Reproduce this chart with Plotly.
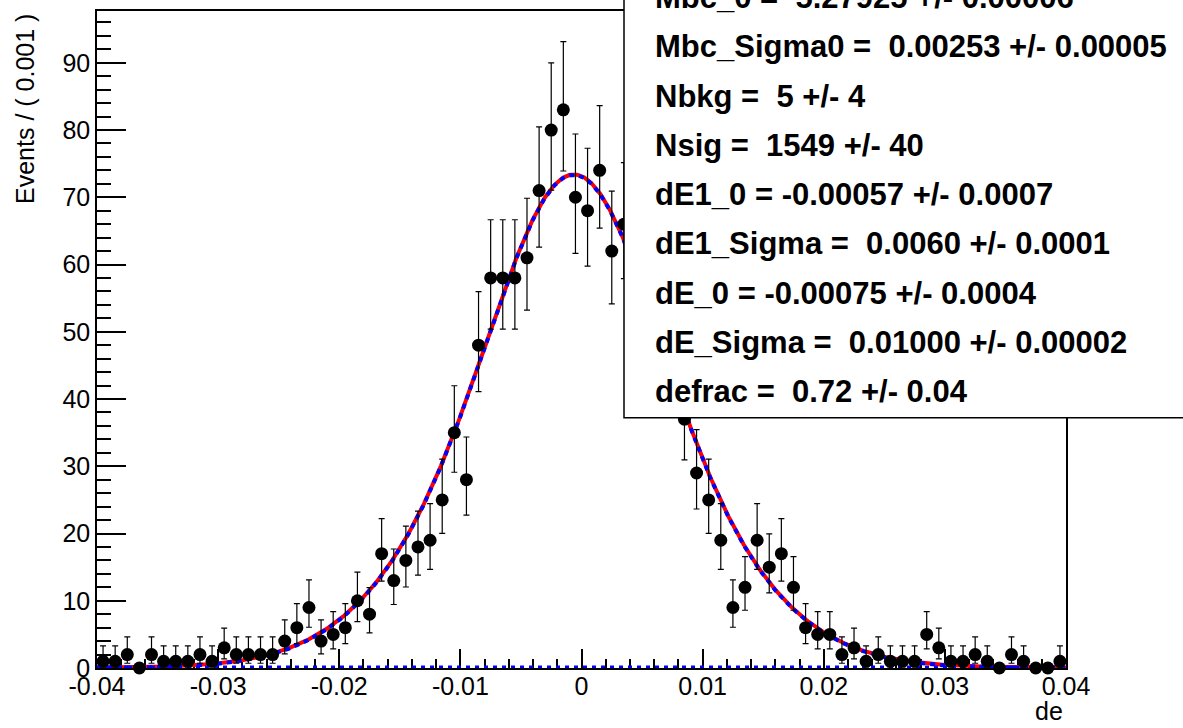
import math
import numpy as np
import plotly.graph_objects as go

# ---------------- data ----------------
bin_width = 0.001
x_min, x_max = -0.04, 0.04
bin_centers = [round(x_min + bin_width * (i + 0.5), 4) for i in range(80)]
counts = [1, 1, 2, 0, 2, 1, 1, 1, 2, 1,
          3, 2, 2, 2, 2, 4, 6, 9, 4, 5,
          6, 10, 8, 17, 13, 16, 18, 19, 25, 35,
          28, 48, 58, 58, 58, 61, 71, 80, 83, 70,
          68, 74, 62, 66, 60, 55, 52, 46, 37, 29,
          25, 19, 9, 12, 19, 15, 17, 12, 6, 5,
          5, 2, 3, 1, 2, 1, 1, 1, 5, 3,
          1, 1, 2, 1, 0, 2, 1, 0, 0, 1]

# fit parameters (from the stats box)
Nsig = 1549
Nbkg = 5
dE_0, dE_Sigma = -0.00075, 0.01000
dE1_0, dE1_Sigma = -0.00057, 0.0060
defrac = 0.72

param_lines = [
    "Mbc_0 =\u00a0 5.27925 +/- 0.00006",
    "Mbc_Sigma0 =\u00a0 0.00253 +/- 0.00005",
    "Nbkg =\u00a0 5 +/- 4",
    "Nsig =\u00a0 1549 +/- 40",
    "dE1_0 = -0.00057 +/- 0.0007",
    "dE1_Sigma =\u00a0 0.0060 +/- 0.0001",
    "dE_0 = -0.00075 +/- 0.0004",
    "dE_Sigma =\u00a0 0.01000 +/- 0.00002",
    "defrac =\u00a0 0.72 +/- 0.04",
]

x_tickvals = [-0.04, -0.03, -0.02, -0.01, 0, 0.01, 0.02, 0.03, 0.04]
x_ticktext = ["-0.04", "-0.03", "-0.02", "-0.01", "0", "0.01", "0.02", "0.03", "0.04"]

# ---------------- Poisson errors ----------------
def pcdf(k, mu):
    s, term = 0.0, math.exp(-mu)
    for i in range(k + 1):
        if i > 0:
            term *= mu / i
        s += term
    return s

def bisect(f, lo, hi):
    for _ in range(100):
        mid = 0.5 * (lo + hi)
        if f(lo) * f(mid) <= 0:
            hi = mid
        else:
            lo = mid
    return 0.5 * (lo + hi)

alpha = 0.158655
err_lo, err_hi = [], []
for n in counts:
    if n == 0:
        err_lo.append(0.0)
        err_hi.append(0.0)
        continue
    lo = bisect(lambda m: (1 - pcdf(n - 1, m)) - alpha, 1e-6, n + 0.0)
    hi = bisect(lambda m: pcdf(n, m) - alpha, n + 0.0, n + 10 * math.sqrt(n) + 10)
    err_lo.append(n - lo)
    err_hi.append(hi - n)

# ---------------- curves ----------------
xs = np.linspace(x_min, x_max, 801)
def gauss(x, m, s):
    return np.exp(-0.5 * ((x - m) / s) ** 2) / (s * math.sqrt(2 * math.pi))
sig = Nsig * bin_width * (defrac * gauss(xs, dE_0, dE_Sigma) + (1 - defrac) * gauss(xs, dE1_0, dE1_Sigma))
bkg = np.full_like(xs, Nbkg * bin_width / (x_max - x_min))
tot = sig + bkg

# ---------------- figure ----------------
W, H = 1183, 728
L, R, T, B = 97, 117, 9, 60
pw, ph = W - L - R, H - T - B
def px(xp):
    return (xp - L) / pw
def py(yp):
    return (H - B - yp) / ph

fig = go.Figure()
fig.add_trace(go.Scatter(x=xs, y=tot, mode="lines", line=dict(color="red", width=4), hoverinfo="skip"))
fig.add_trace(go.Scatter(x=xs, y=sig, mode="lines", line=dict(color="blue", width=4, dash="5px,5px"), hoverinfo="skip"))
fig.add_trace(go.Scatter(x=xs, y=bkg, mode="lines", line=dict(color="blue", width=4, dash="4px,5px"), hoverinfo="skip"))
fig.add_trace(go.Scatter(
    x=bin_centers, y=counts, mode="markers",
    marker=dict(color="black", size=13, symbol="circle"),
    error_y=dict(type="data", symmetric=False, array=err_hi, arrayminus=err_lo,
                 color="black", thickness=1.2, width=3),
    cliponaxis=False, hoverinfo="skip"))

font_family = "Liberation Sans, Arial, Helvetica, sans-serif"
fig.update_layout(
    width=W, height=H, margin=dict(l=L, r=R, t=T, b=B),
    paper_bgcolor="white", plot_bgcolor="white", showlegend=False,
    font=dict(family=font_family, size=25, color="black"),
    xaxis=dict(range=[x_min, x_max], tickvals=x_tickvals, ticktext=x_ticktext,
               ticks="inside", ticklen=19, tickwidth=1.5, tickcolor="black",
               minor=dict(ticks="inside", ticklen=9, tickwidth=1.5, tickcolor="black", dtick=0.002, tick0=0),
               showline=True, mirror=True, linecolor="black", linewidth=1.5,
               showgrid=False, zeroline=False, tickfont=dict(size=25),
               ticklabelstandoff=-5, layer="below traces"),
    yaxis=dict(range=[0, 97.7], dtick=10, tick0=0,
               ticks="inside", ticklen=29, tickwidth=1.5, tickcolor="black",
               minor=dict(ticks="inside", ticklen=14, tickwidth=1.5, tickcolor="black", dtick=2),
               showline=True, mirror=True, linecolor="black", linewidth=1.5,
               showgrid=False, zeroline=False, tickfont=dict(size=25)),
)

# stats box
fig.add_shape(type="rect", xref="paper", yref="paper",
              x0=px(624), x1=px(1300), y0=py(417), y1=py(-50),
              fillcolor="white", line=dict(color="black", width=1.5), layer="above")
for k, txt in enumerate(param_lines):
    yc = 45 + 49.4 * (k - 1)
    fig.add_annotation(xref="paper", yref="paper", x=px(653), y=py(yc),
                       xanchor="left", yanchor="middle", text="<b>" + txt + "</b>",
                       showarrow=False, font=dict(size=31, family=font_family, color="black"))

fig.add_annotation(xref="paper", yref="paper", x=px(25), y=py(10), xanchor="center", yanchor="top",
                   text="Events / ( 0.001 )", textangle=-90, showarrow=False,
                   font=dict(size=25, family=font_family))
fig.add_annotation(xref="paper", yref="paper", x=px(1065), y=py(727), xanchor="right", yanchor="bottom",
                   text="de", showarrow=False, font=dict(size=25, family=font_family))

fig.write_html("out.html")
